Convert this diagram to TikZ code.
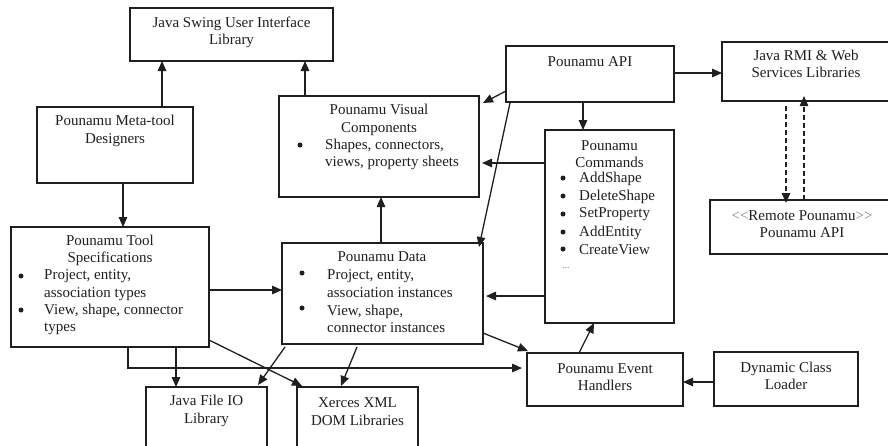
\documentclass[tikz,border=0pt]{standalone}
\usepackage{fontspec}
\setmainfont{Liberation Serif}
\usetikzlibrary{arrows.meta}
\definecolor{ink}{gray}{0.12}
\tikzset{
  box/.style={draw=ink, line width=1.4pt, inner sep=0pt, outer sep=0pt, anchor=north west},
  txt/.style={font=\fontsize{15}{17.5}\selectfont, inner sep=0pt, align=center, text=ink},
  itm/.style={txt, align=left, anchor=west},
  bul/.style={circle, fill=ink, inner sep=0pt, minimum size=5pt},
  arr/.style={draw=ink, line width=1.3pt, -{Triangle[length=10pt,width=8.5pt]}},
  darr/.style={arr, dash pattern=on 5pt off 3pt}
}
\begin{document}
\begin{tikzpicture}[x=1pt,y=-1pt]
\useasboundingbox (0,0) rectangle (888,445);
\clip (0,0) rectangle (888,445);
\fill[white] (0,0) rectangle (888,445);

% boxes
\node[box, minimum width=203pt, minimum height=53pt] (swing) at (130,8) {};
\node[box, minimum width=156pt, minimum height=76pt] (meta) at (37,107) {};
\node[box, minimum width=198pt, minimum height=120pt] (spec) at (11,227) {};
\node[box, minimum width=200pt, minimum height=101pt] (visual) at (279,96) {};
\node[box, minimum width=201pt, minimum height=101pt] (data) at (282,243) {};
\node[box, minimum width=168pt, minimum height=56pt] (api) at (506,46) {};
\node[box, minimum width=173pt, minimum height=59pt] (rmi) at (722,42) {};
\node[box, minimum width=129pt, minimum height=193pt] (cmd) at (545,130) {};
\node[box, minimum width=185pt, minimum height=54pt] (remote) at (710,200) {};
\node[box, minimum width=156pt, minimum height=53pt] (eh) at (527,353) {};
\node[box, minimum width=144pt, minimum height=54pt] (dcl) at (714,352) {};
\node[box, minimum width=121pt, minimum height=70pt] (fileio) at (146,387) {};
\node[box, minimum width=121pt, minimum height=70pt] (xerces) at (297,387) {};

% texts
\node[txt] (swingT) at (231.5,32.5) {Java Swing User Interface\\Library};
\node[txt] (metaT) at (115,131) {Pounamu Meta-tool\\Designers};
\node[txt] (specT) at (110,250.5) {Pounamu Tool\\Specifications};
\node[bul] (specB1) at (21,276) {};
\node[bul] (specB2) at (21,310) {};
\node[itm] (specI1) at (44,285) {Project, entity,\\association types};
\node[itm] (specI2) at (44,319.5) {View, shape, connector\\types};
\node[txt] (visualT) at (379,120) {Pounamu Visual\\Components};
\node[bul] (visualB) at (300,145) {};
\node[itm] (visualI) at (325,154.5) {Shapes, connectors,\\views, property sheets};
\node[txt] (dataT) at (382,256.5) {Pounamu Data};
\node[bul] (dataB1) at (302,273) {};
\node[bul] (dataB2) at (302,308) {};
\node[itm] (dataI1) at (327,283.5) {Project, entity,\\association instances};
\node[itm] (dataI2) at (327,319) {View, shape,\\connector instances};
\node[txt] (apiT) at (590,61.5) {Pounamu API};
\node[txt] (rmiT) at (806,64) {Java RMI \& Web\\Services Libraries};
\node[txt] (cmdT) at (609.5,154) {Pounamu\\Commands};
\foreach \yy/\nm/\lab in {178/a/AddShape,196/b/DeleteShape,214/c/SetProperty,232/d/AddEntity,249/e/CreateView}{
  \node[bul] (cmdB\nm) at (563,\yy) {};
  \node[itm] (cmdI\nm) at (579,\yy+0.5) {\lab};
}
\node[itm, font=\fontsize{10}{12}\selectfont, text=gray] (cmdDots) at (562,268) {...};
\node[txt] (remoteT) at (802,224) {{\color{gray}\textless\kern0pt\textless}Remote Pounamu{\color{gray}\textgreater\kern0pt\textgreater}\\Pounamu API};
\node[txt] (ehT) at (605,377) {Pounamu Event\\Handlers};
\node[txt] (dclT) at (786,376) {Dynamic Class\\Loader};
\node[txt] (fileioT) at (206.5,411) {Java File IO\\Library};
\node[txt] (xercesT) at (357.5,411.5) {Xerces XML\\DOM Libraries};

% connector end coordinates
\coordinate (m1) at (162,107);
\coordinate (m2) at (123,183);
\coordinate (v1) at (305,96);
\coordinate (a1) at (506,91);
\coordinate (a2) at (583,102);
\coordinate (a3) at (674,73);
\coordinate (a4) at (510,103);
\coordinate (r1) at (786,106);
\coordinate (r2) at (804,200);
\coordinate (c1) at (545,163);
\coordinate (c2) at (545,296);
\coordinate (d1) at (381,243);
\coordinate (s1) at (209,290);
\coordinate (s2) at (176,347);
\coordinate (s3) at (209,340);
\coordinate (s4) at (128,347);
\coordinate (s5) at (128,368);
\coordinate (d2) at (285,347);
\coordinate (d3) at (357,347);
\coordinate (d4) at (483,333);
\coordinate (e1) at (579,353);
\coordinate (k1) at (714,382);

% connectors
\draw[arr] (m1) -- (m1 |- swing.south);
\draw[arr] (m2) -- (m2 |- spec.north);
\draw[arr] (v1) -- (v1 |- swing.south);
\draw[arr] (a1) -- ([shift={(4,7)}]visual.north east);
\draw[arr] (a2) -- (a2 |- cmd.north);
\draw[arr] (a3) -- (a3 -| rmi.west);
\draw[arr] (a4) -- ([shift={(-4,4)}]data.north east);
\draw[darr] (r1) -- ([yshift=-3pt]r1 |- remote.north);
\draw[darr] (r2) -- ([yshift=5pt]r2 |- rmi.south);
\draw[arr] (c1) -- ([xshift=3pt]c1 -| visual.east);
\draw[arr] (c2) -- ([xshift=3pt]c2 -| data.east);
\draw[arr] (d1) -- (d1 |- visual.south);
\draw[arr] (s1) -- (s1 -| data.west);
\draw[arr] (s2) -- (s2 |- fileio.north);
\draw[arr] (s3) -- ([shift={(5,-1)}]xerces.north west);
\draw[arr] (s4) -- (s5) -- ([xshift=-5pt]s5 -| eh.west);
\draw[arr] (d2) -- ([shift={(-9,-2)}]fileio.north east);
\draw[arr] (d3) -- ([shift={(44,-1)}]xerces.north west);
\draw[arr] (d4) -- ([shift={(1,-2)}]eh.north west);
\draw[arr] (e1) -- ([xshift=-80pt]cmd.south east);
\draw[arr] (k1) -- (k1 -| eh.east);
\end{tikzpicture}
\end{document}
